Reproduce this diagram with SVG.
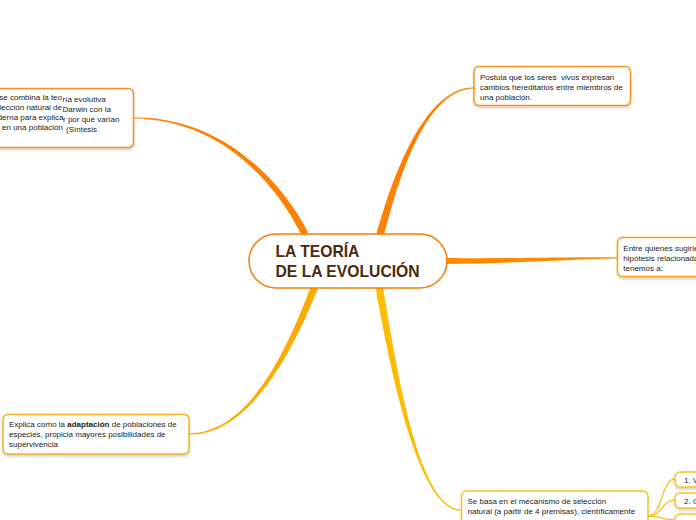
<svg xmlns="http://www.w3.org/2000/svg" width="696" height="520" viewBox="0 0 696 520">
<defs>
<filter id="sh" x="-10%" y="-20%" width="120%" height="150%">
<feDropShadow dx="0" dy="2" stdDeviation="1" flood-color="#000" flood-opacity="0.18"/>
</filter>
</defs>
<style>
.box{fill:#fff;stroke-width:1.5;filter:url(#sh)}
.t{font-family:"Liberation Sans",Arial,sans-serif;font-size:8px;fill:#222;white-space:pre}
.c{font-family:"Liberation Sans",Arial,sans-serif;font-size:15.7px;font-weight:bold;fill:#4a2a0c}
.sub{fill:none;stroke:#fbbf24;stroke-width:1.3}
</style>
<rect width="696" height="520" fill="#fff"/>
<g id="connectors">
<path d="M134,118.6 C212,119.5 269.3,171.4 301.9,235.6 L308.1,232.4 C274.7,168.6 212,116.5 134,117.4 Z" fill="#ff8000"/>
<path d="M474,87.4 C430,86.5 397.1,159.2 376.3,235 L383.7,237 C402.9,160.8 430,89.5 474,88.6 Z" fill="#ff8000"/>
<path d="M618,257.5 C570,256.8 520,258.8 445,258 L445,264 C520,263.2 570,259.2 618,258.5 Z" fill="#ff8a00"/>
<path d="M189,434.6 C250,435.5 292.8,351.1 318.4,287.3 L311.6,284.7 C287.2,348.9 250,432.5 189,433.4 Z" fill="#ffaa00"/>
<path d="M461,509.4 C420,508.5 398,379.5 382.7,285.4 L375.3,286.6 C392,380.5 420,511.5 461,510.6 Z" fill="#ffbb00"/>
<path class="sub" d="M648,516 C663,516 661,479 675,479"/>
<path class="sub" d="M648,516 C663,516 661,500 675,500"/>
<path class="sub" d="M648,516 C663,516 661,520 675,520"/>
</g>
<g id="center">
<rect x="249" y="234" width="198" height="54" rx="27" fill="#fff" stroke="#f57c00" stroke-width="1.5"/>
<text class="c" x="275.5" y="256.7">LA TEORÍA</text>
<text class="c" x="275.5" y="276.7">DE LA EVOLUCIÓN</text>
</g>
<g id="node-upper-left">
<rect class="box" x="-60" y="88.5" width="193.5" height="59" rx="5" stroke="#ff8a1f"/>
<text class="t" text-anchor="end" x="62" y="100.3">se combina la teo</text>
<text class="t" x="62.5" y="102">ría evolutiva</text>
<text class="t" text-anchor="end" x="62" y="110.3">elección natural de</text>
<text class="t" x="62.5" y="112">Darwin con la</text>
<text class="t" text-anchor="end" x="63.5" y="120.3">derna para explica</text>
<text class="t" x="63" y="122">r por qué varían</text>
<text class="t" text-anchor="end" x="63" y="130.3">s en una población</text>
<text class="t" x="66" y="132">(Síntesis</text>
</g>
<g id="node-upper-right">
<rect class="box" x="474" y="66.5" width="156.5" height="39" rx="5" stroke="#f7931e"/>
<text class="t" x="480" y="80">Postula que los seres  vivos expresan</text>
<text class="t" x="480" y="90">cambios hereditarios entre miembros de</text>
<text class="t" x="480" y="100">una población.</text>
</g>
<g id="node-right">
<rect class="box" x="617.5" y="237.5" width="120" height="39" rx="5" stroke="#fa9f1b"/>
<text class="t" x="623.3" y="251">Entre quienes sugirieron</text>
<text class="t" x="623.3" y="261">hipótesis relacionadas</text>
<text class="t" x="623.3" y="271">tenemos a:</text>
</g>
<g id="node-lower-left">
<rect class="box" x="3" y="414.5" width="186" height="39.5" rx="5" stroke="#f5b21b"/>
<text class="t" x="9" y="427">Explica como la <tspan font-weight="bold">adaptación</tspan> de poblaciones de</text>
<text class="t" x="9" y="437">especies, propicia mayores posibilidades de</text>
<text class="t" x="9" y="447">supervivencia</text>
</g>
<g id="node-bottom">
<rect class="box" x="461.5" y="491" width="186.5" height="50" rx="5" stroke="#fcc419"/>
<text class="t" x="467.5" y="503.5">Se basa en el mecanismo de selección</text>
<text class="t" x="467.5" y="514">natural (a partir de 4 premisas), científicamente</text>
<text class="t" x="467.5" y="524.5">comprobada por Charles Darwin y Alfred</text>
</g>
<g id="node-sub1">
<rect class="box" x="675" y="472" width="40" height="15" rx="5" stroke="#fcc419"/>
<text class="t" x="684" y="482.5">1. V</text>
</g>
<g id="node-sub2">
<rect class="box" x="675" y="493" width="40" height="15" rx="5" stroke="#fcc419"/>
<text class="t" x="684" y="503.5">2. C</text>
</g>
<g id="node-sub3">
<rect class="box" x="675" y="514" width="40" height="15" rx="5" stroke="#fcc419"/>
</g>
</svg>
